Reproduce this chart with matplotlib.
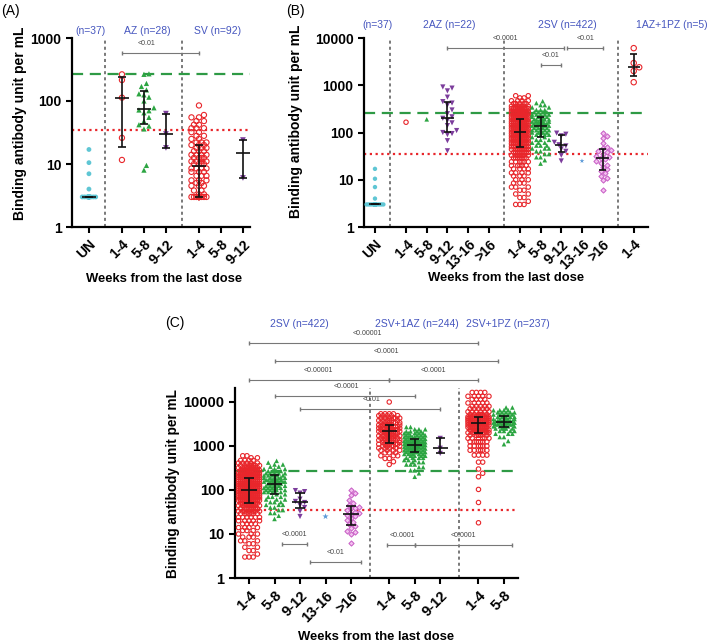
import numpy as np
import matplotlib.pyplot as plt

plt.rcParams['font.family'] = ['Liberation Sans', 'DejaVu Sans']

# ---- data: binding antibody units per mL ----
# (A) single dose
un_vals = [3, 4, 7, 10.5, 17]
un_counts = [33, 1, 1, 1, 1]
az_14 = [11.6, 26, 113, 215, 265]
az_58 = [8, 9.5, 36, 40, 42, 48, 55, 65, 70, 72, 78, 100, 115, 125, 130, 150, 170, 190, 265, 270]
az_912 = [18, 30, 63]
sv_14_vals = [3, 3.3, 3.8, 4.5, 5, 5.5, 6.5, 7.5, 8.5, 10, 11, 12.5, 14, 16, 18,
              20, 22, 25, 28, 32, 37, 42, 48, 55, 60, 85]
sv_14_counts = [23, 2, 2, 3, 2, 3, 3, 3, 4, 4, 4, 4, 4, 3, 3,
                3, 3, 2, 2, 2, 3, 2, 2, 2, 1, 1]
sv_912 = [6, 24]

# (B) two doses
az2_14 = [165]
az2_58 = [190]
az2_912 = [41, 67, 90, 95, 100, 110, 140, 160, 180, 200, 215, 250, 300, 380, 420, 450, 560, 760, 870, 920]
sv2_14_vals = [3.0, 3.5, 4.2, 5.0, 6.0, 7.0, 8.5, 10, 12, 14, 17, 20, 24, 29, 33,
               38, 44, 50, 58, 66, 75, 85, 96, 108, 122, 138, 155, 172,
               195, 220, 250, 280, 320, 360, 410, 470, 540, 600]
sv2_14_counts = [3, 1, 2, 2, 2, 3, 3, 3, 3, 4, 4, 5, 6, 7, 7,
                 8, 8, 9, 13, 14, 14, 14, 15, 15, 15, 15, 15, 15,
                 13, 12, 11, 10, 9, 7, 5, 4, 2, 2]
sv2_58_vals = [22, 26, 30, 35, 40, 46, 53, 61, 70, 80, 90, 100, 112, 125, 140,
               155, 170, 190, 215, 240, 270, 300, 340, 380, 420, 460]
sv2_58_counts = [1, 1, 2, 2, 2, 3, 3, 3, 3, 2, 4, 5, 5, 5, 4,
                 6, 6, 6, 5, 5, 4, 3, 2, 2, 1, 1]
sv2_912 = [25, 33, 40, 45, 52, 55, 62, 85, 92, 97]
sv2_1316 = [25]
sv2_16 = [6.2, 10, 11, 12, 14, 15, 17, 19, 21, 23, 25, 27, 29, 30, 32, 35, 38, 40, 42, 46, 50, 60, 77, 84, 100]
azpz_14 = [1160, 2000, 2400, 2950, 6100]

# (C) booster
svaz_14_vals = [380, 440, 520, 600, 700, 800, 900, 1000, 1100, 1200, 1350, 1500, 1700, 1950,
                2150, 2350, 2550, 2750, 3000, 3400, 3800, 4300, 4900, 5400, 10000]
svaz_14_counts = [1, 1, 2, 3, 3, 4, 4, 5, 5, 5, 7, 7, 7, 8,
                  8, 7, 7, 7, 7, 6, 6, 6, 5, 4, 1]
svaz_58_vals = [200, 240, 280, 330, 380, 430, 480, 540, 600, 660, 730, 800, 880, 960,
                1050, 1130, 1220, 1320, 1450, 1600, 1750, 1950, 2150, 2400, 2700]
svaz_58_counts = [1, 1, 2, 2, 3, 3, 3, 4, 4, 5, 7, 7, 7, 7,
                  7, 7, 7, 7, 6, 6, 5, 5, 4, 3, 2]
svaz_912 = [680, 890, 1490]
svpz_14_vals = [18, 52, 103, 200, 240, 300, 430, 620, 800, 1000, 1250, 1500, 1750,
                2000, 2300, 2650, 3000, 3400, 3800, 4200, 4600,
                5200, 6000, 7000, 8000, 9500, 11500, 13500, 16500]
svpz_14_counts = [1, 1, 1, 1, 1, 1, 2, 4, 6, 6, 7, 6, 5,
                  10, 10, 10, 11, 12, 12, 12, 12,
                  6, 6, 5, 5, 5, 4, 5, 4]
svpz_58_vals = [1100, 1300, 1600, 1900, 2200, 2500, 2800, 3100, 3400, 3700, 4100, 4600, 5200, 5800, 6500, 7500]
svpz_58_counts = [1, 1, 2, 3, 4, 5, 5, 6, 6, 6, 6, 5, 5, 5, 4, 2]

green_cut = 264
red_cut = 35.2

BLUE = '#4656bf'
styles = {
    'cyan': dict(marker='o', s=10, facecolors='#5fc6d4', edgecolors='none'),
    'red': dict(marker='o', s=10, facecolors='none', edgecolors='#e8262b', linewidths=0.8),
    'green': dict(marker='^', s=11, facecolors='#2ca542', edgecolors='none'),
    'purple': dict(marker='v', s=14, facecolors='#7c3d9c', edgecolors='none'),
    'pink': dict(marker='D', s=7, facecolors='#f3c0ef', edgecolors='#c75bc4', linewidths=0.7),
    'star': dict(marker='*', s=22, facecolors='#5b9ad8', edgecolors='none'),
}

W, H = 709, 643
fig = plt.figure(figsize=(W / 100, H / 100), dpi=100)


def px_axes(l, r, t, b):
    return fig.add_axes([l / W, 1 - b / H, (r - l) / W, (b - t) / H])


def setup(ax, xlim, ylim, yticks, xpos, xlabels, vlines, tick_fs=10):
    ax.set_yscale('log')
    ax.set_xlim(*xlim)
    ax.set_ylim(*ylim)
    for s in ['top', 'right']:
        ax.spines[s].set_visible(False)
    for s in ['left', 'bottom']:
        ax.spines[s].set_linewidth(1.6)
    ax.set_yticks(yticks)
    ax.set_yticklabels([str(t) for t in yticks], fontweight='bold', fontsize=tick_fs)
    ax.minorticks_off()
    ax.set_xticks(xpos)
    ax.set_xticklabels(xlabels, rotation=45, ha='right', rotation_mode='anchor',
                       fontweight='bold', fontsize=tick_fs)
    ax.tick_params(width=1.5, length=4)
    for v in vlines:
        ax.axvline(v, color='#555555', lw=1.1, ls=(0, (2, 2)), zorder=1)
    ax.axhline(green_cut, color='#2e9a45', lw=1.6, ls=(0, (5, 3)), zorder=1)
    ax.axhline(red_cut, color='#e8262b', lw=1.6, ls=(0, (1, 1.6)), zorder=1)


def swarm_x(ax, center, vals, d_px, half):
    # simple beeswarm in pixel space, capped at +/- half category units
    bbox = ax.get_window_extent()
    x0, x1 = ax.get_xlim()
    y0, y1 = ax.get_ylim()
    sx = bbox.width / (x1 - x0)
    sy = bbox.height / (np.log10(y1) - np.log10(y0))
    vals = np.sort(vals)
    ys = np.log10(vals) * sy
    step = d_px / 2
    kmax = max(int(half * sx / step), 0)
    cands = [0.0]
    for k in range(1, kmax + 1):
        cands += [k * step, -k * step]
    cands = np.array(cands)
    px, py = [], []
    for y in ys:
        off = 0.0
        if px:
            ax_ = np.array(px)
            ay_ = np.array(py)
            near = np.abs(ay_ - y) < d_px
            if near.any():
                dx = cands[:, None] - ax_[near][None, :]
                dy = y - ay_[near]
                dist = np.sqrt(dx ** 2 + dy[None, :] ** 2).min(axis=1)
                ok = np.where(dist >= d_px * 0.999)[0]
                off = cands[ok[0]] if len(ok) else cands[np.argmax(dist)]
        px.append(off)
        py.append(y)
    return center + np.array(px) / sx, vals


def draw_group(ax, pos, vals, style, d_px=4.2, half=0.46, scale=1.0, counts=None):
    vals = np.asarray(vals, float)
    if counts is not None:
        vals = np.repeat(vals, counts)
    xs, ys = swarm_x(ax, pos, vals, d_px, half)
    st = dict(styles[style])
    st['s'] = st['s'] * scale
    ax.scatter(xs, ys, zorder=3, clip_on=False, **st)
    if len(vals) > 1:
        q1, med, q3 = np.percentile(vals, [25, 50, 75], method='weibull')
        kw = dict(color='#111111', lw=1.2, zorder=4, solid_capstyle='butt')
        ax.plot([pos - 0.3, pos + 0.3], [med, med], **kw)
        ax.plot([pos, pos], [q1, q3], **kw)
        ax.plot([pos - 0.18, pos + 0.18], [q1, q1], **kw)
        ax.plot([pos - 0.18, pos + 0.18], [q3, q3], **kw)


def bracket(ax, x0, x1, y, label, tx=None):
    ax.plot([x0, x1], [y, y], color='#777777', lw=0.8, clip_on=False, zorder=5,
            marker='|', markersize=3, markevery=[0, 1])
    ax.annotate(label, xy=((x0 + x1) / 2 if tx is None else tx, y), xytext=(0, 7),
                textcoords='offset points', ha='center', va='center',
                fontsize=5, color='#444444', annotation_clip=False)


def label_axes(ax, xl_pos, yl_pos, xfs=9.4, yfs=10):
    ax.set_xlabel('Weeks from the last dose', fontweight='bold', fontsize=xfs)
    ax.set_ylabel('Binding antibody unit per mL', fontweight='bold', fontsize=yfs)
    ax.xaxis.set_label_coords(*xl_pos)
    ax.yaxis.set_label_coords(*yl_pos)


# ---------------- (A) ----------------
axA = px_axes(72, 250, 38, 227)
setup(axA, (-0.77, 7.32), (1, 1000), [1, 10, 100, 1000],
      [0, 1.5, 2.5, 3.5, 5, 6, 7], ['UN', '1-4', '5-8', '9-12', '1-4', '5-8', '9-12'],
      [0.75, 4.25])
draw_group(axA, 0, un_vals, 'cyan', d_px=4.5, half=0.33, scale=1.2, counts=un_counts)
draw_group(axA, 1.5, az_14, 'red', d_px=5, scale=1.4)
draw_group(axA, 2.5, az_58, 'green', d_px=5, scale=1.3)
draw_group(axA, 3.5, az_912, 'purple', d_px=5, scale=1.2)
draw_group(axA, 5, sv_14_vals, 'red', d_px=5, half=0.4, scale=1.4, counts=sv_14_counts)
draw_group(axA, 7, sv_912, 'purple', d_px=5, scale=1.2)
bracket(axA, 1.5, 5, 578, '<0.01', tx=2.6)
label_axes(axA, (0.52, -0.243), (-0.253, 0.548))

# ---------------- (B) ----------------
axB = px_axes(364, 648, 38, 227)
setup(axB, (-0.53, 13.19), (1, 10000), [1, 10, 100, 1000, 10000],
      [0, 1.5, 2.5, 3.5, 4.5, 5.5, 7, 8, 9, 10, 11, 12.5],
      ['UN', '1-4', '5-8', '9-12', '13-16', '>16', '1-4', '5-8', '9-12', '13-16', '>16', '1-4'],
      [0.75, 6.25, 11.75])
draw_group(axB, 0, un_vals, 'cyan', d_px=4.2, half=0.45, counts=un_counts)
draw_group(axB, 1.5, az2_14, 'red')
draw_group(axB, 2.5, az2_58, 'green')
draw_group(axB, 3.5, az2_912, 'purple', d_px=4.6)
draw_group(axB, 7, sv2_14_vals, 'red', counts=sv2_14_counts)
draw_group(axB, 8, sv2_58_vals, 'green', counts=sv2_58_counts)
draw_group(axB, 9, sv2_912, 'purple', d_px=4.6)
draw_group(axB, 10, sv2_1316, 'star', scale=0.6)
draw_group(axB, 11, sv2_16, 'pink')
draw_group(axB, 12.5, azpz_14, 'red', d_px=5.5, scale=1.5)
bracket(axB, 3.5, 9.15, 6100, '<0.0001', tx=6.3)
bracket(axB, 9.3, 11, 6100, '<0.01')
bracket(axB, 8, 9, 2660, '<0.01')
label_axes(axB, (0.5, -0.238), (-0.215, 0.56))

# ---------------- (C) ----------------
axC = px_axes(235, 518, 388, 578)
setup(axC, (-0.55, 10.55), (1, 20800), [1, 10, 100, 1000, 10000],
      [0, 1, 2, 3, 4, 5.5, 6.5, 7.5, 9, 10],
      ['1-4', '5-8', '9-12', '13-16', '>16', '1-4', '5-8', '9-12', '1-4', '5-8'],
      [4.75, 8.25], tick_fs=10.5)
draw_group(axC, 0, sv2_14_vals, 'red', counts=sv2_14_counts)
draw_group(axC, 1, sv2_58_vals, 'green', counts=sv2_58_counts)
draw_group(axC, 2, sv2_912, 'purple', d_px=4.6)
draw_group(axC, 3, sv2_1316, 'star')
draw_group(axC, 4, sv2_16, 'pink')
draw_group(axC, 5.5, svaz_14_vals, 'red', counts=svaz_14_counts)
draw_group(axC, 6.5, svaz_58_vals, 'green', counts=svaz_58_counts)
draw_group(axC, 7.5, svaz_912, 'purple', d_px=4.6)
draw_group(axC, 9, svpz_14_vals, 'red', counts=svpz_14_counts)
draw_group(axC, 10, svpz_58_vals, 'green', counts=svpz_58_counts)
bracket(axC, 0, 9, 2.2e5, '<0.00001', tx=4.63)
bracket(axC, 1, 9.75, 8.5e4, '<0.0001', tx=5.4)
bracket(axC, 0, 5.5, 3.2e4, '<0.00001', tx=2.7)
bracket(axC, 5.5, 9, 3.2e4, '<0.0001', tx=7.25)
bracket(axC, 1, 6.5, 1.37e4, '<0.0001', tx=3.8)
bracket(axC, 2, 7.5, 6900, '<0.01', tx=4.8)
bracket(axC, 1.3, 2.27, 5.9, '<0.0001')
bracket(axC, 2.4, 4.4, 2.3, '<0.01')
bracket(axC, 5.4, 6.5, 5.6, '<0.0001', tx=6.0)
bracket(axC, 6.5, 10.3, 5.6, '<0.0001', tx=8.4)
label_axes(axC, (0.5, -0.279), (-0.194, 0.495), yfs=9.8)

# group headers and panel letters
for x, y, s in [(91, 31, '(n=37)'), (147, 31, 'AZ (n=28)'), (218, 31, 'SV (n=92)'),
                (378, 25, '(n=37)'), (449, 25, '2AZ (n=22)'), (567, 25, '2SV (n=422)'),
                (672, 25, '1AZ+1PZ (n=5)'),
                (299, 324, '2SV (n=422)'), (417, 324, '2SV+1AZ (n=244)'),
                (508, 324, '2SV+1PZ (n=237)')]:
    fig.text(x / W, 1 - y / H, s, ha='center', va='center', color=BLUE, fontsize=7.5)
for x, y, s in [(1, 11, '(A)'), (286, 11, '(B)'), (165, 323, '(C)')]:
    fig.text(x / W, 1 - y / H, s, ha='left', va='center', fontsize=10)

fig.savefig('out.png', dpi=100)
